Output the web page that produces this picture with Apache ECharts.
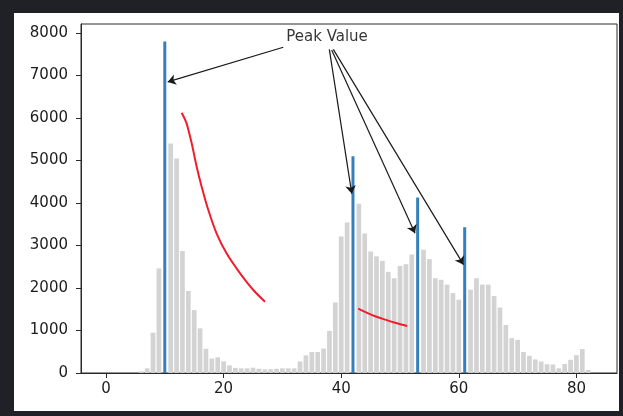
<!DOCTYPE html>
<html>
<head>
<meta charset="utf-8">
<script src="https://cdn.jsdelivr.net/npm/echarts@6/dist/echarts.min.js"></script>
<style>
  html, body { margin: 0; padding: 0; background: #1f2127; }
  #frame { position: absolute; left: 14px; top: 13px; width: 605px; height: 398px; background: #ffffff; }
  #chart { position: absolute; left: 0; top: 0; width: 623px; height: 416px; }
</style>
</head>
<body>
<div id="frame"></div>
<div id="chart"></div>
<script>
// Histogram counts per bin (bins 0..82); peak bins are drawn separately in blue
const binCounts = [
  0, 0, 0, 0, 0, 0, 40, 110, 950, 2460,
  null, 5400, 5050, 2870, 1930, 1480, 1050, 570, 340, 370,
  275, 180, 120, 110, 110, 125, 100, 85, 90, 100,
  110, 110, 110, 270, 415, 495, 495, 575, 990, 1660,
  3210, 3540, null, 3985, 3280, 2860, 2745, 2640, 2380, 2230,
  2520, 2560, 2790, null, 2900, 2680, 2230, 2195, 2080, 1880,
  1725, null, 1960, 2230, 2080, 2080, 1810, 1540, 1130, 820,
  780, 495, 405, 320, 270, 208, 200, 110, 210, 312,
  420, 565, 70
];

// Peak bins and their counts
const peakBins = [10, 42, 53, 61];
const peakCounts = [7800, 5100, 4130, 3430];

// Hand-drawn decay strokes
const decayAX = [12.87, 13.7, 14.57, 15.42, 16.27, 17.4, 18.8, 20.5, 22.8, 25.05, 27.04];
const decayAY = [6125, 5875, 5405, 4855, 4385, 3835, 3287, 2816, 2346, 1953, 1678];
const decayBX = [42.9, 44.5, 46.0, 47.5, 49.0, 50.2, 51.2];
const decayBY = [1515, 1410, 1325, 1255, 1190, 1140, 1105];

// Annotation text anchor and arrow start / end points
const noteText = 'Peak Value';
const notePos = [37.59, 7906];
const arrowFrom = [[30.15, 7664], [37.98, 7616], [38.38, 7600], [38.66, 7616]];
const arrowTo = [[10.5, 6850], [41.8, 4220], [52.55, 3290], [60.8, 2550]];

// Axis ticks
const xTicks = [0, 20, 40, 60, 80];
const yTicks = [0, 1000, 2000, 3000, 4000, 5000, 6000, 7000, 8000];

const grayData = [];
binCounts.forEach((v, i) => { if (v !== null) grayData.push([i, v]); });
const peakData = peakBins.map((b, i) => [b, peakCounts[i]]);
const lineA = decayAX.map((x, i) => [x, decayAY[i]]);
const lineB = decayBX.map((x, i) => [x, decayBY[i]]);

const axisColor = '#2a2a2a';
const labelFont = { fontSize: 15, color: '#1c1c1c', fontFamily: 'DejaVu Sans', formatter: v => String(v) };

const xBase = {
  type: 'value', min: -4.25, max: 86.9, gridIndex: 0,
  splitLine: { show: false }
};

const chart = echarts.init(document.getElementById('chart'), null, { renderer: 'canvas' });
chart.setOption({
  animation: false,
  backgroundColor: 'transparent',
  grid: {
    left: 81, top: 24, width: 536, height: 349,
    show: true, borderColor: axisColor, borderWidth: 1, backgroundColor: 'transparent'
  },
  xAxis: [
    Object.assign({}, xBase, {
      axisLine: { show: true, onZero: false, lineStyle: { color: axisColor, width: 1 } },
      axisTick: { show: true, length: 5, customValues: xTicks, lineStyle: { color: axisColor } },
      axisLabel: Object.assign({ customValues: xTicks, margin: 9 }, labelFont)
    }),
    Object.assign({}, xBase, { show: false })
  ],
  yAxis: {
    type: 'value', min: 0, max: 8212,
    splitLine: { show: false },
    axisLine: { show: true, onZero: false, lineStyle: { color: axisColor, width: 1 } },
    axisTick: { show: true, length: 5, customValues: yTicks, lineStyle: { color: axisColor } },
    axisLabel: Object.assign({ customValues: yTicks, margin: 13 }, labelFont)
  },
  series: [
    {
      name: 'counts', type: 'bar', xAxisIndex: 0, yAxisIndex: 0,
      data: grayData, barWidth: 4.7,
      itemStyle: { color: '#d3d3d3' }, silent: true
    },
    {
      name: 'peaks', type: 'bar', xAxisIndex: 1, yAxisIndex: 0,
      data: peakData, barWidth: 3,
      itemStyle: { color: '#3580bb' }, silent: true, z: 3
    },
    {
      name: 'decayA', type: 'line', data: lineA, smooth: 0.3, showSymbol: false,
      lineStyle: { color: '#f01e2c', width: 2 }, silent: true, z: 4
    },
    {
      name: 'decayB', type: 'line', data: lineB, smooth: 0.3, showSymbol: false,
      lineStyle: { color: '#f01e2c', width: 2 }, silent: true, z: 4
    },
    {
      name: 'note', type: 'scatter', data: [notePos],
      symbolSize: 0.1, itemStyle: { color: 'transparent' }, silent: true, z: 5,
      label: {
        show: true, position: 'inside', formatter: noteText,
        fontSize: 15, color: '#000000', fontFamily: 'DejaVu Sans',
        textBorderWidth: 0, textBorderColor: 'transparent'
      },
      markLine: {
        silent: true, animation: false,
        symbol: ['none', 'arrow'], symbolSize: 8,
        lineStyle: { color: '#1a1a1a', width: 1.2, type: 'solid' },
        label: { show: false },
        emphasis: { disabled: true },
        data: arrowFrom.map((f, i) => [{ coord: f }, { coord: arrowTo[i] }])
      }
    }
  ]
});
</script>
</body>
</html>
